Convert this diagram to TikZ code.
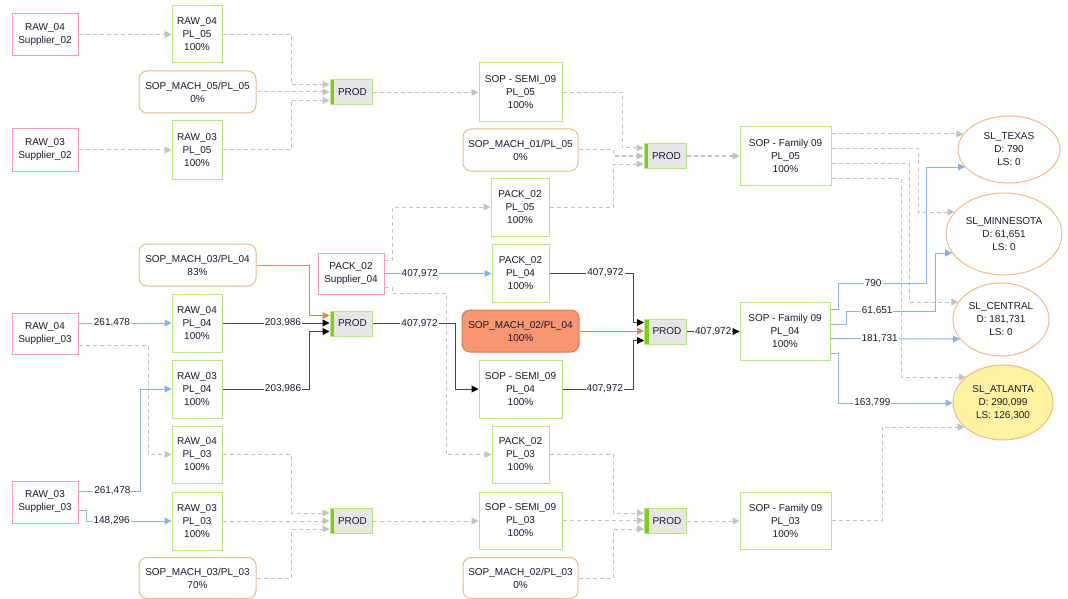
\documentclass[tikz,border=0pt]{standalone}
\usepackage{fontspec}
\setmainfont{Liberation Sans}
\usetikzlibrary{arrows.meta,shapes.geometric}
\definecolor{pinkc}{RGB}{250,150,200}
\definecolor{greenc}{RGB}{185,230,125}
\definecolor{tanc}{RGB}{230,185,140}
\definecolor{ellc}{RGB}{245,185,130}
\definecolor{barc}{RGB}{125,205,30}
\definecolor{prodfill}{RGB}{230,230,230}
\definecolor{dashc}{RGB}{195,195,195}
\definecolor{bluec}{RGB}{140,180,220}
\definecolor{darkc}{RGB}{70,70,70}
\definecolor{orangec}{RGB}{215,140,70}
\definecolor{machfill}{RGB}{247,150,112}
\definecolor{machdraw}{RGB}{225,120,75}
\definecolor{atlfill}{RGB}{255,242,160}
\definecolor{txtc}{RGB}{25,25,45}
\begin{document}
\begin{tikzpicture}[x=1pt,y=-1pt,
  every node/.style={font=\fontsize{10}{13}\selectfont, text=txtc, inner sep=0pt, align=center},
  supbox/.style={draw=pinkc, line width=1pt, fill=white, minimum width=66pt, minimum height=42pt},
  plbox/.style={draw=greenc, line width=1pt, fill=white, minimum width=50pt, minimum height=58pt},
  machbox/.style={draw=tanc, line width=1pt, fill=white, rounded corners=8pt, minimum width=117pt, minimum height=42pt},
  prodbox/.style={draw=greenc, line width=1pt, fill=prodfill, minimum width=42pt, minimum height=25pt,
    path picture={\fill[barc] (path picture bounding box.north west) rectangle ([xshift=4pt]path picture bounding box.south west);}},
  slell/.style={ellipse, draw=ellc, line width=1pt, fill=white},
  lbl/.style={fill=white, inner sep=1pt},
  dsh/.style={draw=dashc, line width=1pt, dash pattern=on 4pt off 3pt, -{Triangle[length=7pt,width=7pt]}},
  blu/.style={draw=bluec, line width=1pt, -{Triangle[length=7pt,width=7pt]}},
  drk/.style={draw=darkc, line width=1pt, -{Triangle[length=7pt,width=7pt,color=black]}},
  org/.style={draw=orangec, line width=1pt, -{Triangle[length=7pt,width=7pt]}}
]
\fill[white] (0,0) rectangle (1068,599);
\useasboundingbox (0,0) rectangle (1068,599);

% top row
\node[supbox] (rs24) at (45,34.5) {RAW\_04\\Supplier\_02};
\node[plbox, minimum height=57pt] (p5r4) at (197,34.5) {RAW\_04\\PL\_05\\100\%};
\node[machbox] (m5) at (197.5,92) {SOP\_MACH\_05/PL\_05\\0\%};
\node[supbox] (rs23) at (45,150) {RAW\_03\\Supplier\_02};
\node[plbox] (p5r3) at (197,150) {RAW\_03\\PL\_05\\100\%};
\node[prodbox] (prA) at (351,92.5) {\hspace*{3pt}PROD};
\node[plbox, minimum width=83pt, minimum height=59pt] (s5) at (520.5,92.5) {SOP - SEMI\_09\\PL\_05\\100\%};
\node[machbox, minimum width=115pt] (m1) at (520.5,150) {SOP\_MACH\_01/PL\_05\\0\%};
\node[prodbox] (prB) at (665,156) {\hspace*{3pt}PROD};
\node[plbox, minimum width=58pt] (pk5) at (520,207) {PACK\_02\\PL\_05\\100\%};
\node[plbox, minimum width=91pt] (f5) at (785.5,156) {SOP - Family 09\\PL\_05\\100\%};
\node[slell, minimum width=102pt, minimum height=67pt] (tex) at (1009,149.5) {SL\_TEXAS\\D: 790\\LS: 0};
\node[slell, minimum width=116pt, minimum height=82pt] (min) at (1004,234) {SL\_MINNESOTA\\D: 61,651\\LS: 0};
\node[slell, minimum width=96pt, minimum height=73pt] (cen) at (1001,319.5) {SL\_CENTRAL\\D: 181,731\\LS: 0};
\node[slell, fill=atlfill, minimum width=100pt, minimum height=75pt] (atl) at (1003,402.5) {SL\_ATLANTA\\D: 290,099\\LS: 126,300};

% middle row
\node[machbox] (m34) at (197.5,265) {SOP\_MACH\_03/PL\_04\\83\%};
\node[supbox, minimum height=41pt] (psup) at (351,273.5) {PACK\_02\\Supplier\_04};
\node[supbox, minimum height=41pt] (rs34) at (45,333.5) {RAW\_04\\Supplier\_03};
\node[plbox] (p4r4) at (197,323) {RAW\_04\\PL\_04\\100\%};
\node[plbox] (p4r3) at (197,389) {RAW\_03\\PL\_04\\100\%};
\node[prodbox] (prC) at (351,323.5) {\hspace*{3pt}PROD};
\node[plbox, minimum width=57pt] (pk4) at (520.5,273) {PACK\_02\\PL\_04\\100\%};
\node[machbox, fill=machfill, draw=machdraw] (m24) at (520.5,331) {SOP\_MACH\_02/PL\_04\\100\%};
\node[plbox, minimum width=83pt] (s4) at (520.5,389) {SOP - SEMI\_09\\PL\_04\\100\%};
\node[prodbox] (prD) at (665.5,331.5) {\hspace*{3pt}PROD};
\node[plbox, minimum width=90pt] (f4) at (785,331) {SOP - Family 09\\PL\_04\\100\%};

% bottom row
\node[plbox, minimum height=57pt] (p3r4) at (197,454.5) {RAW\_04\\PL\_03\\100\%};
\node[supbox] (rs33) at (45,502) {RAW\_03\\Supplier\_03};
\node[plbox] (p3r3) at (197,521) {RAW\_03\\PL\_03\\100\%};
\node[machbox, minimum height=41pt] (m33) at (197.5,578) {SOP\_MACH\_03/PL\_03\\70\%};
\node[prodbox] (prE) at (351,521) {\hspace*{3pt}PROD};
\node[plbox, minimum width=57pt, minimum height=57pt] (pk3) at (520.5,454.5) {PACK\_02\\PL\_03\\100\%};
\node[plbox, minimum width=83pt, minimum height=57pt] (s3) at (520.5,520.5) {SOP - SEMI\_09\\PL\_03\\100\%};
\node[machbox, minimum width=115pt, minimum height=41pt] (m23) at (520.5,578) {SOP\_MACH\_02/PL\_03\\0\%};
\node[prodbox] (prF) at (665.5,521) {\hspace*{3pt}PROD};
\node[plbox, minimum width=91pt, minimum height=57pt] (f3) at (785.5,520.5) {SOP - Family 09\\PL\_03\\100\%};

% dashed connectors
\draw[dsh] (rs24.east) -- (p5r4.west);
\draw[dsh] (rs23.east) -- (p5r3.west);
\draw[dsh] (p5r4.east) -- (291,34.5) |- ([yshift=8pt]prA.west);
\draw[dsh] (m5.east) -- (m5.east -| prA.west);
\draw[dsh] (p5r3.east) -- (291,150) |- ([yshift=-8pt]prA.west);
\draw[dsh] (prA.east) -- (s5.west);
\draw[dsh] (s5.east) -- (622,92.5) |- ([yshift=8pt]prB.west);
\draw[dsh] (m1.east) -- (613,150) |- (prB.west);
\draw[dsh] (pk5.east) -- (613,207) |- ([yshift=-8pt]prB.west);
\draw[dsh] (prB.east) -- (f5.west);
\draw[dsh] ([yshift=22pt]f5.east) -- ([xshift=5.8pt,yshift=15.5pt]tex.west);
\draw[dsh] ([yshift=7pt]f5.east) -- (918,149) |- ([xshift=9.1pt,yshift=22pt]min.west);
\draw[dsh] ([yshift=-7pt]f5.east) -- (909,163) |- ([xshift=5.9pt,yshift=17.5pt]cen.west);
\draw[dsh] ([yshift=-22pt]f5.east) -- (901,178) |- ([xshift=13.3pt,yshift=25.5pt]atl.west);
\draw[dsh] ([yshift=13.5pt]psup.east) -- (392,260) |- (pk5.west);
\draw[dsh] ([yshift=-13.5pt]psup.east) -- (392,287) -- (392,293) -- (446,293) |- (pk3.west);
\draw[dsh] ([yshift=-11.5pt]rs34.east) -- (148,345) |- (p3r4.west);
\draw[dsh] (p3r4.east) -- (291,454.5) |- ([yshift=8pt]prE.west);
\draw[dsh] (p3r3.east) -- (prE.west);
\draw[dsh] (m33.east) -- (291,578) |- ([yshift=-8pt]prE.west);
\draw[dsh] (prE.east) -- (prE.east -| s3.west);
\draw[dsh] (pk3.east) -- (613,454.5) |- ([yshift=8pt]prF.west);
\draw[dsh] (s3.east) -- (s3.east -| prF.west);
\draw[dsh] (m23.east) -- (613,578) |- ([yshift=-8pt]prF.west);
\draw[dsh] (prF.east) -- (prF.east -| f3.west);
\draw[dsh] (f3.east) -- (882,520.5) |- ([xshift=12.1pt,yshift=-24.5pt]atl.west);

% blue connectors
\draw[blu] ([yshift=10.5pt]rs34.east) -- node[lbl,pos=0.36]{261,478} (p4r4.west);
\draw[blu] ([yshift=11pt]rs33.east) -- node[lbl,pos=0.55]{261,478} (140,491) |- (p4r3.west);
\draw[blu] ([yshift=-8pt]rs33.east) -- (86,510) -- (86,521) -- node[lbl,pos=0.3]{148,296} (p3r3.west);
\draw[blu] (psup.east) -- node[lbl,pos=0.33]{407,972} (psup.east -| pk4.west);
\draw[blu] ([yshift=22pt]f4.east) -- (838,309) -- (838,283) -- node[lbl,pos=0.4]{790} (926,283) |- ([xshift=7.5pt,yshift=-17.5pt]tex.west);
\draw[blu] ([yshift=7pt]f4.east) -- (846,324) -- (846,311) -- node[lbl,pos=0.35]{61,651} (935,311) |- ([xshift=6.6pt,yshift=-19pt]min.west);
\draw[blu] ([yshift=-7.5pt]f4.east) -- node[lbl,pos=0.38]{181,731} ([xshift=7.4pt,yshift=-19.5pt]cen.west);
\draw[blu] ([yshift=-22pt]f4.east) -- (838,353) -- (838,403) -- node[lbl,pos=0.3]{163,799} ([yshift=-0.5pt]atl.west);

% dark and orange connectors
\draw[drk] (p4r4.east) -- node[lbl,pos=0.565]{203,986} (p4r4.east -| prC.west);
\draw[drk] (p4r3.east) -- node[lbl,pos=0.7]{203,986} (309,389) |- ([yshift=-8pt]prC.west);
\draw[org] (m34.east) -- (309,265) |- ([yshift=8pt]prC.west);
\draw[drk] (prC.east) -- node[lbl,pos=0.57]{407,972} (455,323.5) |- (s4.west);
\draw[drk] (pk4.east) -- node[lbl,pos=0.67]{407,972} (633,273) |- ([yshift=9pt]prD.west);
\draw[drk] (s4.east) -- node[lbl,pos=0.6]{407,972} (633,389) |- ([yshift=-9pt]prD.west);
\draw[org] (m24.east) -- (m24.east -| prD.west);
\draw[drk] (prD.east) -- node[lbl]{407,972} (prD.east -| f4.west);
\end{tikzpicture}
\end{document}
